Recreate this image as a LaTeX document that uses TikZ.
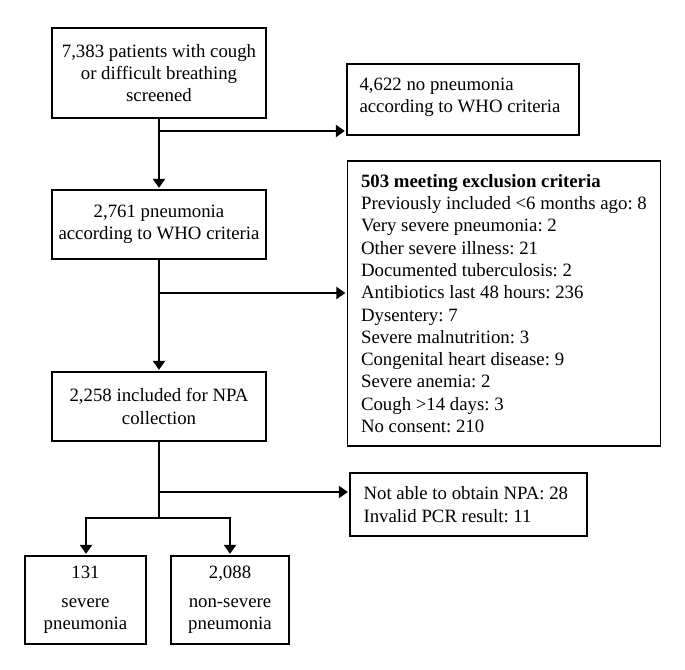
\documentclass[tikz,border=0pt]{standalone}
\usepackage{fontspec}
\setmainfont{Liberation Serif}
\usetikzlibrary{arrows.meta,calc}
\tikzset{
  txt/.style={inner sep=0pt, font=\fontsize{18.8}{22.3}\selectfont\frenchspacing},
  box/.style={txt, draw, line width=1.3pt, align=center},
  frame/.style={draw, line width=1.3pt, inner sep=0pt},
  ltext/.style={txt, align=left, anchor=west},
  flow/.style={line width=2.8pt, shorten >=1.5pt, -{Triangle[length=9pt,width=12pt]}},
  flowline/.style={line width=2.8pt},
}
\begin{document}
\begin{tikzpicture}[x=1pt,y=-1pt]
\useasboundingbox (0,0) rectangle (685,669);
% boxes
\node[box, minimum width=214pt, minimum height=90pt] (screen) at (159,73)
  {7,383 patients with cough\\or difficult breathing\\screened};
\node[frame, minimum width=232pt, minimum height=71pt] (nopn) at (463,99.5) {};
\node[ltext] (nopnt) at ([xshift=13pt,yshift=2.5pt]nopn.west)
  {4,622 no pneumonia\\according to WHO criteria};
\node[box, minimum width=214pt, minimum height=69pt] (pneu) at (159,224.5)
  {2,761 pneumonia\\according to WHO criteria};
\node[frame, minimum width=313pt, minimum height=285pt] (excl) at (504,303.5) {};
\node[ltext] (exclt) at ([xshift=14pt]excl.west)
  {\textbf{503 meeting exclusion criteria}\\
   Previously included <6 months ago: 8\\
   Very severe pneumonia: 2\\
   Other severe illness: 21\\
   Documented tuberculosis: 2\\
   Antibiotics last 48 hours: 236\\
   Dysentery: 7\\
   Severe malnutrition: 3\\
   Congenital heart disease: 9\\
   Severe anemia: 2\\
   Cough >14 days: 3\\
   No consent: 210};
\node[box, minimum width=214pt, minimum height=69pt] (incl) at (159,406.5)
  {2,258 included for NPA\\collection};
\node[frame, minimum width=237pt, minimum height=63pt] (nonpa) at (468.5,504.5) {};
\node[ltext] (nonpat) at ([xshift=14pt]nonpa.west)
  {Not able to obtain NPA: 28\\Invalid PCR result: 11};
\node[box, minimum width=121pt, minimum height=88pt] (sev) at (85.5,600)
  {131\\[6pt]severe\\pneumonia};
\node[box, minimum width=118pt, minimum height=88pt] (nonsev) at (230,600)
  {2,088\\[6pt]non-severe\\pneumonia};
% junctions
\coordinate (j1) at (159,131);
\coordinate (j2) at (159,293);
\coordinate (j3) at (159,492);
\coordinate (split) at (159,518);
\coordinate (sl) at (86,518);
\coordinate (sr) at (230,518);
% connectors
\draw[flow] (screen.south -| j1) -- (pneu.north -| j1);
\draw[flow] (j1) -- (j1 -| nopn.west);
\draw[flow] (pneu.south -| j2) -- (incl.north -| j2);
\draw[flow] (j2) -- (j2 -| excl.west);
\draw[flowline] (incl.south -| j3) -- (split);
\draw[flow] (j3) -- (j3 -| nonpa.west);
\draw[flowline, line cap=rect] (sl) -- (sr);
\draw[flow] (sl) -- (sev.north -| sl);
\draw[flow] (sr) -- (nonsev.north -| sr);
\end{tikzpicture}
\end{document}
